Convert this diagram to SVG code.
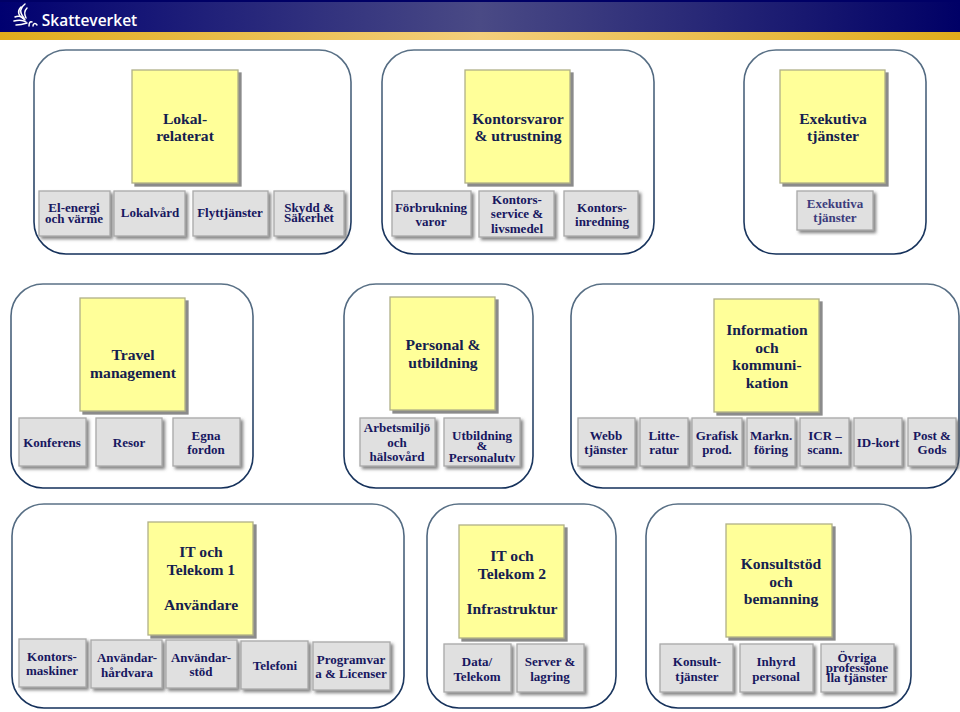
<svg xmlns="http://www.w3.org/2000/svg" width="960" height="712" viewBox="0 0 960 712">
<style>
text{font-family:"Liberation Serif",serif;font-weight:700;text-anchor:middle}
.c{fill:#fff;stroke:url(#cs);stroke-width:1.6}
.y{fill:#ffff99;stroke:#b0b088;stroke-width:1.3;filter:url(#ys)}
.g{fill:#e0e0e0;stroke:#a9a9a9;stroke-width:1.3;filter:url(#gs)}
.yt{font-size:15.6px;fill:#14204f}
.gt{font-size:13px;fill:#17175f}
.lt{fill:#3c3c7c;font-size:13px}
</style>
<defs>
<linearGradient id="hd" x1="0" x2="1" y1="0" y2="0"><stop offset="0" stop-color="#000070"/><stop offset="0.5" stop-color="#4a4a85"/><stop offset="1" stop-color="#000066"/></linearGradient>
<linearGradient id="gd" x1="0" x2="1" y1="0" y2="0"><stop offset="0" stop-color="#e0ac1c"/><stop offset="0.5" stop-color="#f4cf7c"/><stop offset="1" stop-color="#e0ac1c"/></linearGradient>
<linearGradient id="cs" x1="0" x2="0" y1="0" y2="1"><stop offset="0" stop-color="#5a7186"/><stop offset="1" stop-color="#14305a"/></linearGradient>
<filter id="ys" x="-10%" y="-10%" width="120%" height="120%"><feDropShadow dx="3" dy="3" stdDeviation="0.5" flood-color="#777" flood-opacity="0.85"/></filter>
<filter id="gs" x="-15%" y="-15%" width="130%" height="130%"><feDropShadow dx="2.5" dy="2.5" stdDeviation="1.5" flood-color="#666" flood-opacity="0.8"/></filter>
</defs>
<rect width="960" height="712" fill="#fff"/>
<g id="header">
<rect width="960" height="32" fill="url(#hd)"/>
<rect width="960" height="2" fill="#000066"/>
<rect y="32" width="960" height="8" fill="url(#gd)"/>
<g fill="none" stroke="#fff" stroke-width="1.5" stroke-linecap="round">
<path d="M25 4C20 8 19 12 24 18"/><path d="M21 7C17 11 18 16 24 19"/><path d="M27 8C24 11 24 14 26 18"/><path d="M15 17C19 15 23 17 25 20"/><path d="M14 21C18 20 23 20 26 22"/><path d="M16 25C20 25 24 24 27 23"/><path d="M29 26C29 23 30 21 32 22"/><path d="M33 26C33 24 35 22 37 25"/>
</g>
<text x="89.500" y="25.500" style="font-family:'Open Sans',sans-serif;font-weight:600;font-size:15.500px;fill:#fff">Skatteverket</text>
</g>
<g id="containers">
<rect class="c" x="34" y="50" width="317" height="204" rx="32"/>
<rect class="c" x="382" y="50" width="272" height="204" rx="32"/>
<rect class="c" x="744" y="50" width="182" height="204" rx="32"/>
<rect class="c" x="11" y="284" width="242" height="204" rx="32"/>
<rect class="c" x="344" y="284" width="189" height="204" rx="32"/>
<rect class="c" x="571" y="284" width="388" height="204" rx="32"/>
<rect class="c" x="12" y="504" width="392" height="204" rx="32"/>
<rect class="c" x="427" y="504" width="189" height="204" rx="32"/>
<rect class="c" x="646" y="504" width="265" height="204" rx="32"/>
</g>
<g id="n1"><rect class="y" x="132" y="70" width="106" height="113"/><text class="yt" x="185" y="124">Lokal-</text><text class="yt" x="185" y="141">relaterat</text></g>
<g id="n2"><rect class="y" x="465" y="70" width="105" height="113"/><text class="yt" x="518" y="124">Kontorsvaror</text><text class="yt" x="518" y="141">&amp; utrustning</text></g>
<g id="n3"><rect class="y" x="780" y="70" width="105" height="113"/><text class="yt" x="833" y="124">Exekutiva</text><text class="yt" x="833" y="141">tjänster</text></g>
<g id="n4"><rect class="y" x="80" y="298" width="105" height="113"/><text class="yt" x="133" y="360">Travel</text><text class="yt" x="133" y="378">management</text></g>
<g id="n5"><rect class="y" x="390" y="297" width="105" height="113"/><text class="yt" x="443" y="350">Personal &amp;</text><text class="yt" x="443" y="368">utbildning</text></g>
<g id="n6"><rect class="y" x="714" y="299" width="105" height="113"/><text class="yt" x="767" y="335">Information</text><text class="yt" x="767" y="353">och</text><text class="yt" x="767" y="370">kommuni-</text><text class="yt" x="767" y="388">kation</text></g>
<g id="n7"><rect class="y" x="148" y="522" width="105" height="113"/><text class="yt" x="201" y="557">IT och</text><text class="yt" x="201" y="575">Telekom 1</text><text class="yt" x="201" y="610">Användare</text></g>
<g id="n8"><rect class="y" x="459" y="525" width="105" height="113"/><text class="yt" x="512" y="561">IT och</text><text class="yt" x="512" y="579">Telekom 2</text><text class="yt" x="512" y="614">Infrastruktur</text></g>
<g id="n9"><rect class="y" x="726" y="524" width="106" height="113"/><text class="yt" x="781" y="569">Konsultstöd</text><text class="yt" x="781" y="587">och</text><text class="yt" x="781" y="604">bemanning</text></g>
<g id="b1"><rect class="g" x="39" y="191" width="71" height="45"/><text class="gt" x="74" y="212">El-energi</text><text class="gt" x="74" y="223">och värme</text></g>
<g id="b2"><rect class="g" x="114" y="191" width="71" height="45"/><text class="gt" x="150" y="217">Lokalvård</text></g>
<g id="b3"><rect class="g" x="193" y="191" width="75" height="45"/><text class="gt" x="230" y="217">Flyttjänster</text></g>
<g id="b4"><rect class="g" x="274" y="191" width="70" height="45"/><text class="gt" x="309" y="212">Skydd &amp;</text><text class="gt" x="309" y="222">Säkerhet</text></g>
<g id="b5"><rect class="g" x="392" y="191" width="79" height="45"/><text class="gt" x="431" y="212">Förbrukning</text><text class="gt" x="431" y="226">varor</text></g>
<g id="b6"><rect class="g" x="479" y="191" width="75" height="46"/><text class="gt" x="517" y="204">Kontors-</text><text class="gt" x="517" y="218">service &amp;</text><text class="gt" x="517" y="233">livsmedel</text></g>
<g id="b7"><rect class="g" x="564" y="191" width="74" height="45"/><text class="gt" x="602" y="212">Kontors-</text><text class="gt" x="602" y="226">inredning</text></g>
<g id="b8"><rect class="g" x="797" y="191" width="76" height="39"/><text class="gt lt" x="835" y="208">Exekutiva</text><text class="gt lt" x="835" y="222">tjänster</text></g>
<g id="b9"><rect class="g" x="19" y="418" width="67" height="48"/><text class="gt" x="52" y="447">Konferens</text></g>
<g id="b10"><rect class="g" x="96" y="418" width="66" height="48"/><text class="gt" x="129" y="447">Resor</text></g>
<g id="b11"><rect class="g" x="173" y="418" width="67" height="48"/><text class="gt" x="206" y="440">Egna</text><text class="gt" x="206" y="454">fordon</text></g>
<g id="b12"><rect class="g" x="360" y="418" width="75" height="48"/><text class="gt" x="397" y="432">Arbetsmiljö</text><text class="gt" x="397" y="447">och</text><text class="gt" x="397" y="461">hälsovård</text></g>
<g id="b13"><rect class="g" x="444" y="418" width="76" height="48"/><text class="gt" x="482" y="440">Utbildning</text><text class="gt" x="482" y="450">&amp;</text><text class="gt" x="482" y="462">Personalutv</text></g>
<g id="b14"><rect class="g" x="578" y="418" width="57" height="48"/><text class="gt" x="606" y="440">Webb</text><text class="gt" x="606" y="454">tjänster</text></g>
<g id="b15"><rect class="g" x="640" y="418" width="48" height="48"/><text class="gt" x="664" y="440">Litte-</text><text class="gt" x="664" y="454">ratur</text></g>
<g id="b16"><rect class="g" x="692" y="418" width="50" height="48"/><text class="gt" x="717" y="440">Grafisk</text><text class="gt" x="717" y="454">prod.</text></g>
<g id="b17"><rect class="g" x="747" y="418" width="48" height="48"/><text class="gt" x="771" y="440">Markn.</text><text class="gt" x="771" y="454">föring</text></g>
<g id="b18"><rect class="g" x="800" y="418" width="49" height="48"/><text class="gt" x="825" y="440">ICR –</text><text class="gt" x="825" y="454">scann.</text></g>
<g id="b19"><rect class="g" x="854" y="418" width="48" height="48"/><text class="gt" x="878" y="447">ID-kort</text></g>
<g id="b20"><rect class="g" x="908" y="418" width="48" height="48"/><text class="gt" x="932" y="440">Post &amp;</text><text class="gt" x="932" y="454">Gods</text></g>
<g id="b21"><rect class="g" x="19" y="639" width="67" height="48"/><text class="gt" x="52" y="661">Kontors-</text><text class="gt" x="52" y="675">maskiner</text></g>
<g id="b22"><rect class="g" x="91" y="640" width="71" height="48"/><text class="gt" x="127" y="662">Användar-</text><text class="gt" x="127" y="677">hårdvara</text></g>
<g id="b23"><rect class="g" x="166" y="640" width="71" height="48"/><text class="gt" x="201" y="662">Användar-</text><text class="gt" x="201" y="676">stöd</text></g>
<g id="b24"><rect class="g" x="241" y="641" width="67" height="48"/><text class="gt" x="275" y="670">Telefoni</text></g>
<g id="b25"><rect class="g" x="313" y="642" width="77" height="48"/><text class="gt" x="351" y="664">Programvar</text><text class="gt" x="351" y="678">a &amp; Licenser</text></g>
<g id="b26"><rect class="g" x="444" y="644" width="67" height="48"/><text class="gt" x="477" y="666">Data/</text><text class="gt" x="477" y="681">Telekom</text></g>
<g id="b27"><rect class="g" x="517" y="644" width="67" height="48"/><text class="gt" x="550" y="666">Server &amp;</text><text class="gt" x="550" y="681">lagring</text></g>
<g id="b28"><rect class="g" x="660" y="644" width="73" height="48"/><text class="gt" x="697" y="666">Konsult-</text><text class="gt" x="697" y="681">tjänster</text></g>
<g id="b29"><rect class="g" x="740" y="644" width="73" height="48"/><text class="gt" x="776" y="666">Inhyrd</text><text class="gt" x="776" y="681">personal</text></g>
<g id="b30"><rect class="g" x="821" y="644" width="73" height="48"/><text class="gt" x="857" y="662">Övriga</text><text class="gt" x="857" y="672">professione</text><text class="gt" x="857" y="682">lla tjänster</text></g>
</svg>
